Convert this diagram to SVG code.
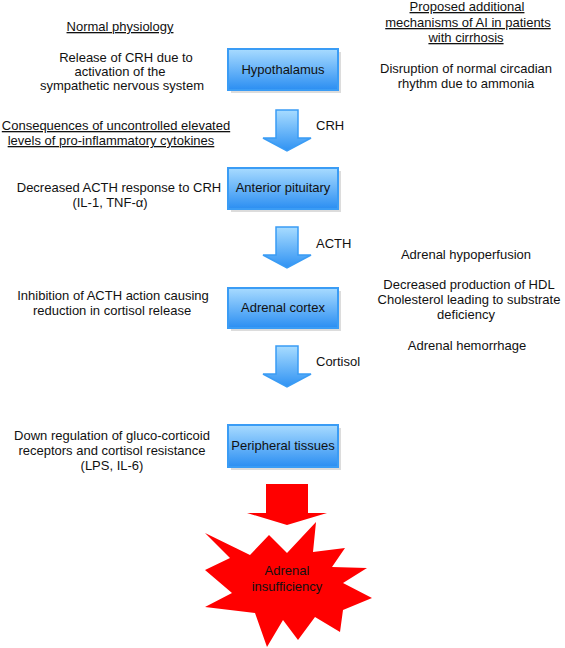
<svg xmlns="http://www.w3.org/2000/svg" width="565" height="648" viewBox="0 0 565 648">
<defs>
<linearGradient id="boxg" x1="0" y1="0" x2="0" y2="1">
<stop offset="0" stop-color="#a8dbff"/>
<stop offset="1" stop-color="#2b8ef2"/>
</linearGradient>
<linearGradient id="arrg" x1="0" y1="0" x2="0" y2="1">
<stop offset="0" stop-color="#a8dcff"/>
<stop offset="1" stop-color="#2f92f3"/>
</linearGradient>
<path id="bluearrow" d="M-11,0 H11 V28 H24 L0,41 L-24,28 H-11 Z"/>
</defs>
<style>
text{font-family:"Liberation Sans",Arial,sans-serif;font-size:13px;fill:#111;}
.c{text-anchor:middle;}
.u{text-decoration:underline;}
.box{fill:url(#boxg);stroke:#3a9cf5;stroke-width:2;}
.shadow{fill:#dcdcdc;}
.barrow{fill:url(#arrg);stroke:#3a9cf5;stroke-width:1.5;}
</style>
<rect width="565" height="648" fill="#fff"/>

<g id="left-text">
<text class="c u" x="120" y="31">Normal physiology</text>
<text class="c" x="126" y="62">Release of CRH due to</text>
<text class="c" x="120" y="76">activation of the</text>
<text class="c" x="122" y="90">sympathetic nervous system</text>
<text class="c u" x="116" y="130">Consequences of uncontrolled elevated</text>
<text class="c u" x="111" y="145">levels of pro-inflammatory cytokines</text>
<text class="c" x="119" y="192">Decreased ACTH response to CRH</text>
<text class="c" x="110" y="207">(IL-1, TNF-α)</text>
<text class="c" x="113" y="300">Inhibition of ACTH action causing</text>
<text class="c" x="112" y="315">reduction in cortisol release</text>
<text class="c" x="112" y="440">Down regulation of gluco-corticoid</text>
<text class="c" x="112" y="455">receptors and cortisol resistance</text>
<text class="c" x="112" y="470">(LPS, IL-6)</text>
</g>

<g id="right-text">
<text class="c u" x="467" y="11">Proposed additional</text>
<text class="c u" x="468" y="27">mechanisms of AI in patients</text>
<text class="c u" x="466" y="42">with cirrhosis</text>
<text class="c" x="466" y="73">Disruption of normal circadian</text>
<text class="c" x="466" y="88">rhythm due to ammonia</text>
<text class="c" x="466" y="259">Adrenal hypoperfusion</text>
<text class="c" x="469" y="289">Decreased production of HDL</text>
<text class="c" x="469" y="304">Cholesterol leading to substrate</text>
<text class="c" x="466" y="319">deficiency</text>
<text class="c" x="467" y="350">Adrenal hemorrhage</text>
</g>

<g id="connectors">
<use href="#bluearrow" class="barrow" transform="translate(287,110)"/>
<use href="#bluearrow" class="barrow" transform="translate(287,227)"/>
<use href="#bluearrow" class="barrow" transform="translate(287,346)"/>
<text x="316" y="130">CRH</text>
<text x="316" y="248">ACTH</text>
<text x="316" y="366">Cortisol</text>
<path d="M266,484 H308 V513 H327 L287,525 L247,513 H266 Z" fill="#ff0000"/>
</g>

<g id="hypothalamus">
<rect class="shadow" x="231" y="52" width="110" height="41"/>
<rect class="box" x="228" y="49" width="110" height="41"/>
<text class="c" x="283" y="74">Hypothalamus</text>
</g>
<g id="anterior-pituitary">
<rect class="shadow" x="231" y="171" width="110" height="41"/>
<rect class="box" x="228" y="168" width="110" height="41"/>
<text class="c" x="283" y="192">Anterior pituitary</text>
</g>
<g id="adrenal-cortex">
<rect class="shadow" x="231" y="291" width="110" height="40"/>
<rect class="box" x="228" y="288" width="110" height="40"/>
<text class="c" x="283" y="312">Adrenal cortex</text>
</g>
<g id="peripheral-tissues">
<rect class="shadow" x="231" y="428" width="110" height="42"/>
<rect class="box" x="228" y="425" width="110" height="42"/>
<text class="c" x="283" y="450">Peripheral tissues</text>
</g>

<g id="adrenal-insufficiency">
<polygon fill="#ff0000" points="205,533 250,555 269,535 287,553 316,522 313,552 345,548 332,567 367,568 343,583 372,598 343,610 340,632 315,617 298,640 283,620 267,647 255,613 205,607 232,593 205,570 230,558"/>
<text class="c" x="287" y="575">Adrenal</text>
<text class="c" x="287" y="591">insufficiency</text>
</g>
</svg>
